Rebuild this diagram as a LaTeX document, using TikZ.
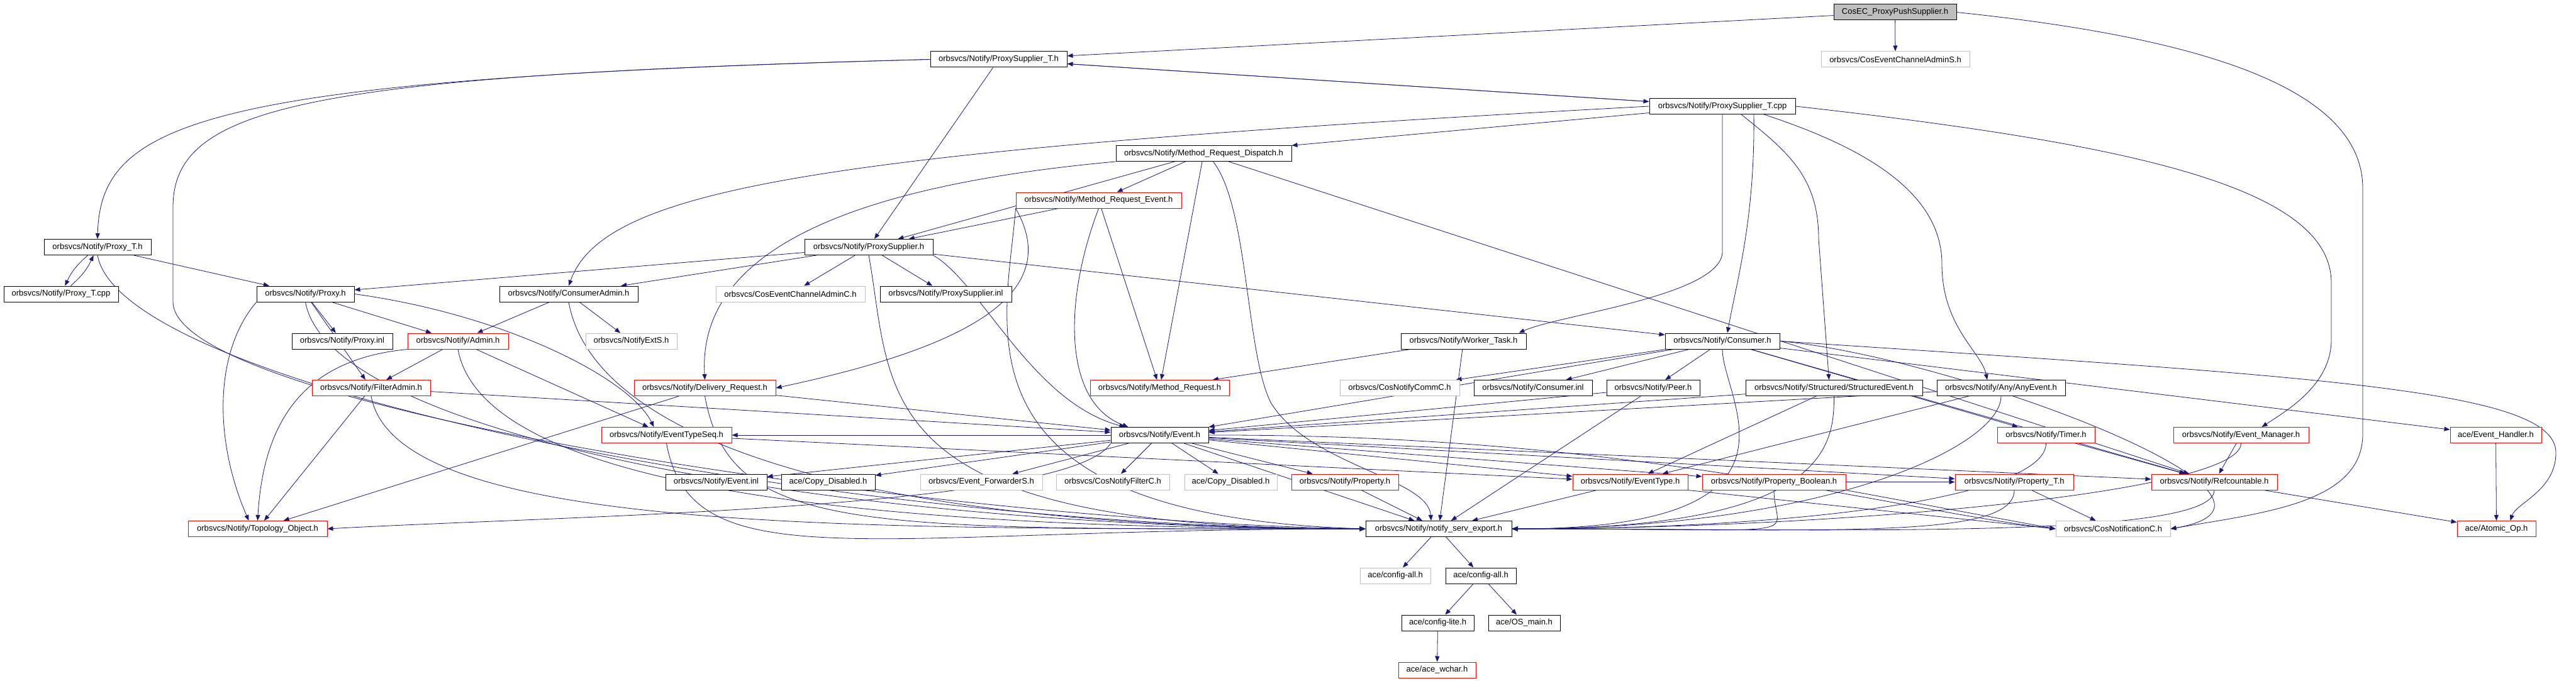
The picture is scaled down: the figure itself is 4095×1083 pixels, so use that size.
\documentclass[tikz,border=0pt]{standalone}
\usepackage{fontspec}
\setmainfont{Liberation Sans}
\usepackage{tikz}
\usetikzlibrary{arrows.meta}
\definecolor{edgeblue}{HTML}{191970}
\definecolor{missgray}{HTML}{BFBFBF}
\pgfdeclarelayer{edges}
\pgfsetlayers{edges,main}
\tikzset{
  hfile/.style = {draw=black, fill=white, line width=1pt, inner sep=0pt,
    minimum height=25pt, font=\fontsize{13}{15}\selectfont},
  hmiss/.style = {hfile, draw=missgray},
  htrunc/.style = {hfile, draw=red},
  hroot/.style = {hfile, fill=missgray},
  incl/.style = {->, draw=edgeblue, line width=0.8pt}
}

\begin{document}
\begin{tikzpicture}[x=1pt, y=-1pt, >={Triangle[length=9pt,width=7pt]}]
\useasboundingbox (0,0) rectangle (4095,1083);
% files
\node[hroot, minimum width=195pt] (root) at (3012.5,19.5) {CosEC\_ProxyPushSupplier.h};
\node[hfile, minimum width=217pt] (pstTh) at (1587.5,94.5) {orbsvcs/Notify/ProxySupplier\_T.h};
\node[hmiss, minimum width=236pt] (cecaS) at (3013,94.5) {orbsvcs/CosEventChannelAdminS.h};
\node[hfile, minimum width=232pt] (pstTcpp) at (2738,169) {orbsvcs/Notify/ProxySupplier\_T.cpp};
\node[hfile, minimum width=279pt] (mrd) at (1913.5,244) {orbsvcs/Notify/Method\_Request\_Dispatch.h};
\node[htrunc, minimum width=263pt] (mre) at (1746.5,318.5) {orbsvcs/Notify/Method\_Request\_Event.h};
\node[hfile, minimum width=170pt] (proxyTh) at (155,393) {orbsvcs/Notify/Proxy\_T.h};
\node[hfile, minimum width=204pt] (psh) at (1381,393) {orbsvcs/Notify/ProxySupplier.h};
\node[hfile, minimum width=182pt] (proxyTcpp) at (97,467.5) {orbsvcs/Notify/Proxy\_T.cpp};
\node[hfile, minimum width=155pt] (proxyh) at (485.5,467.5) {orbsvcs/Notify/Proxy.h};
\node[hfile, minimum width=220pt] (cadmin) at (904,467.5) {orbsvcs/Notify/ConsumerAdmin.h};
\node[hmiss, minimum width=237pt] (cecaC) at (1256.5,467.5) {orbsvcs/CosEventChannelAdminC.h};
\node[hfile, minimum width=209pt] (psinl) at (1503.5,467.5) {orbsvcs/Notify/ProxySupplier.inl};
\node[hfile, minimum width=160pt] (proxyinl) at (544,542.5) {orbsvcs/Notify/Proxy.inl};
\node[htrunc, minimum width=160pt] (admin) at (728,542.5) {orbsvcs/Notify/Admin.h};
\node[hmiss, minimum width=145pt] (extS) at (1003.5,542.5) {orbsvcs/NotifyExtS.h};
\node[hfile, minimum width=199pt] (worker) at (2326.5,542.5) {orbsvcs/Notify/Worker\_Task.h};
\node[hfile, minimum width=182pt] (consumer) at (2738,542.5) {orbsvcs/Notify/Consumer.h};
\node[htrunc, minimum width=188pt] (filteradmin) at (590,617) {orbsvcs/Notify/FilterAdmin.h};
\node[htrunc, minimum width=225pt] (delivery) at (1120.5,617) {orbsvcs/Notify/Delivery\_Request.h};
\node[htrunc, minimum width=221pt] (mr) at (1843.5,617) {orbsvcs/Notify/Method\_Request.h};
\node[hmiss, minimum width=190pt] (commC) at (2225,617) {orbsvcs/CosNotifyCommC.h};
\node[hfile, minimum width=188pt] (consumerinl) at (2437,617) {orbsvcs/Notify/Consumer.inl};
\node[hfile, minimum width=148pt] (peer) at (2628,617) {orbsvcs/Notify/Peer.h};
\node[hfile, minimum width=281pt] (structured) at (2915.5,617) {orbsvcs/Notify/Structured/StructuredEvent.h};
\node[hfile, minimum width=204pt] (anyevent) at (3181,617) {orbsvcs/Notify/Any/AnyEvent.h};
\node[htrunc, minimum width=207pt] (ets) at (1059.5,692) {orbsvcs/Notify/EventTypeSeq.h};
\node[hfile, minimum width=155pt] (event) at (1843.5,692) {orbsvcs/Notify/Event.h};
\node[htrunc, minimum width=155pt] (timer) at (3252.5,692) {orbsvcs/Notify/Timer.h};
\node[htrunc, minimum width=215pt] (evmgr) at (3562.5,692) {orbsvcs/Notify/Event\_Manager.h};
\node[htrunc, minimum width=145pt] (evhandler) at (3967.5,692) {ace/Event\_Handler.h};
\node[hfile, minimum width=161pt] (eventinl) at (1138.5,766.5) {orbsvcs/Notify/Event.inl};
\node[hfile, minimum width=149pt] (copydisA) at (1316.5,766.5) {ace/Copy\_Disabled.h};
\node[hmiss, minimum width=194pt] (fwdS) at (1560,766.5) {orbsvcs/Event\_ForwarderS.h};
\node[hmiss, minimum width=180pt] (filterC) at (1769,766.5) {orbsvcs/CosNotifyFilterC.h};
\node[hmiss, minimum width=147pt] (copydisB) at (1956.5,766.5) {ace/Copy\_Disabled.h};
\node[htrunc, minimum width=170pt] (property) at (2138,766.5) {orbsvcs/Notify/Property.h};
\node[htrunc, minimum width=183pt] (eventtype) at (2591.5,766.5) {orbsvcs/Notify/EventType.h};
\node[htrunc, minimum width=228pt] (propbool) at (2820,766.5) {orbsvcs/Notify/Property\_Boolean.h};
\node[htrunc, minimum width=188pt] (propT) at (3202,766.5) {orbsvcs/Notify/Property\_T.h};
\node[htrunc, minimum width=200pt] (refcount) at (3520,766.5) {orbsvcs/Notify/Refcountable.h};
\node[htrunc, minimum width=221pt] (topo) at (409.5,841) {orbsvcs/Notify/Topology\_Object.h};
\node[hfile, minimum width=232pt] (export) at (2287,841) {orbsvcs/Notify/notify\_serv\_export.h};
\node[hmiss, minimum width=182pt] (notifC) at (3359,841) {orbsvcs/CosNotificationC.h};
\node[htrunc, minimum width=125pt] (atomic) at (3968.5,841) {ace/Atomic\_Op.h};
\node[hmiss, minimum width=112pt] (cfgallA) at (2218,915.5) {ace/config-all.h};
\node[hfile, minimum width=112pt] (cfgallB) at (2354,915.5) {ace/config-all.h};
\node[hfile, minimum width=115pt] (cfglite) at (2285.5,990.5) {ace/config-lite.h};
\node[hfile, minimum width=114pt] (osmain) at (2423,990.5) {ace/OS\_main.h};
\node[htrunc, minimum width=123pt] (wchar) at (2284.5,1065.5) {ace/ace\_wchar.h};

\begin{pgfonlayer}{edges}
% straight includes
\foreach \a/\b in {root/cecaS, root/pstTh, pstTh/psh, pstTh/pstTcpp, pstTcpp/pstTh,
    pstTcpp/mrd, mrd/mre, mrd/psh, mrd/mr, mrd/refcount, mre/psh, mre/mr,
    proxyTh/proxyh, psh/proxyh, psh/cadmin, psh/cecaC, psh/psinl, psh/consumer,
    proxyh/proxyinl, proxyh/admin, proxyh/filteradmin, cadmin/admin, cadmin/extS,
    admin/filteradmin, admin/ets, filteradmin/topo, filteradmin/event,
    delivery/topo, delivery/event, ets/eventtype, event/ets, event/eventinl,
    event/copydisA, event/fwdS, event/filterC, event/copydisB, event/property,
    event/eventtype, event/propbool, event/propT, event/refcount, event/export,
    worker/mr, worker/export, consumer/commC, consumer/consumerinl, consumer/peer,
    consumer/event, consumer/timer, consumer/evhandler, consumer/refcount,
    peer/event, peer/export, structured/event, structured/eventtype,
    anyevent/event, anyevent/eventtype, timer/refcount, evmgr/refcount,
    evhandler/atomic, property/export, eventtype/export, propbool/propT,
    propT/notifC, refcount/atomic, export/cfgallA, export/cfgallB,
    cfgallB/cfglite, cfgallB/osmain, cfglite/wchar}
  \draw[incl] (\a) -- (\b);
% into notify_serv_export.h from the left and from the right
\foreach \a in {proxyTh, proxyh, cadmin, admin, filteradmin, delivery, ets, psh}
  \draw[incl] (\a.south) .. controls +(40,220) and +(-800,0) .. (export.west);
\foreach \a in {consumer, structured, anyevent, timer, evmgr, propbool, propT, refcount}
  \draw[incl] (\a.south) .. controls +(0,80) and +(500,0) .. (export.east);
% routed includes
\draw[incl] (mre.south west) .. controls (1600,520) and (1500,820) .. (export.west);
\draw[incl] (proxyTh) to[bend right=12] (proxyTcpp);
\draw[incl] (proxyTcpp) to[bend right=12] (proxyTh);
\draw[incl] (pstTh.west) .. controls (330,125) and (160,190) .. (proxyTh.north);
\draw[incl] (pstTh.west) .. controls (480,120) and (275,170) .. (275,330) -- (275,480)
  .. controls (275,650) and (1500,830) .. (export.west);
\draw[incl] (pstTcpp.west) .. controls (1300,240) and (960,300) .. (cadmin.north);
\draw[incl] (pstTcpp.south) -- (2738,400) .. controls (2738,470) and (2480,500)
  .. ([xshift=-12pt]worker.north east);
\draw[incl] ([xshift=50pt]pstTcpp.south) .. controls (2790,350) and (2760,450)
  .. ([xshift=8pt]consumer.north);
\draw[incl] ([xshift=30pt]pstTcpp.south) .. controls (2840,240) and (2891,280)
  .. (2891,380) -- ([xshift=-8pt]structured.north);
\draw[incl] ([xshift=66pt]pstTcpp.south) .. controls (2950,230) and (3087,300)
  .. (3087,420) .. controls (3087,520) and (3150,560) .. ([xshift=-22pt]anyevent.north);
\draw[incl] (pstTcpp.east) .. controls (3400,230) and (3706,300) .. (3706,450)
  -- (3706,540) .. controls (3706,610) and (3640,650) .. ([xshift=33pt]evmgr.north);
\draw[incl] (root.east) .. controls (3500,60) and (3756,140) .. (3756,300) -- (3756,690)
  .. controls (3756,800) and (3600,815) .. (notifC.east);
\draw[incl] (mrd.south west) .. controls (1300,300) and (1110,420) .. (delivery.north);
\draw[incl] (mre.south west) .. controls (1700,480) and (1500,560) .. (delivery.east);
\draw[incl] (mre.south) .. controls (1690,480) and (1690,640) .. ([xshift=-50pt]event.north);
\draw[incl] ([xshift=15pt]mrd.south) .. controls (1985,330) and (1980,560) .. (2020,640)
  .. controls (2080,740) and (2270,760) .. ([xshift=-12pt]export.north);
\draw[incl] (psh.south east) .. controls (1560,450) and (1640,640) .. ([xshift=-55pt]event.north);
\draw[incl] (proxyh.south west) .. controls (340,560) and (340,700) .. ([xshift=-14pt]topo.north);
\draw[incl] (admin.south west) .. controls (500,570) and (420,650) .. (topo.north);
\draw[incl] (proxyh.east) .. controls (800,500) and (1000,600) .. ([xshift=-20pt]ets.north);
\draw[incl] (event.south west) .. controls (1700,810) and (900,820) .. (topo.east);
\draw[incl] (event.east) .. controls (2600,690) and (3000,810) .. (notifC.west);
\draw[incl] (eventtype.south east) -- (notifC.west);
\draw[incl] (propbool.south east) -- (notifC.west);
\draw[incl] (consumer.east) .. controls (3700,600) and (4063,620) .. (4063,720)
  .. controls (4063,780) and (4000,800) .. ([xshift=22pt]atomic.north);
\draw[incl] (consumer.east) to[out=-5, in=10] (notifC.east);
\end{pgfonlayer}
\end{tikzpicture}
\end{document}
